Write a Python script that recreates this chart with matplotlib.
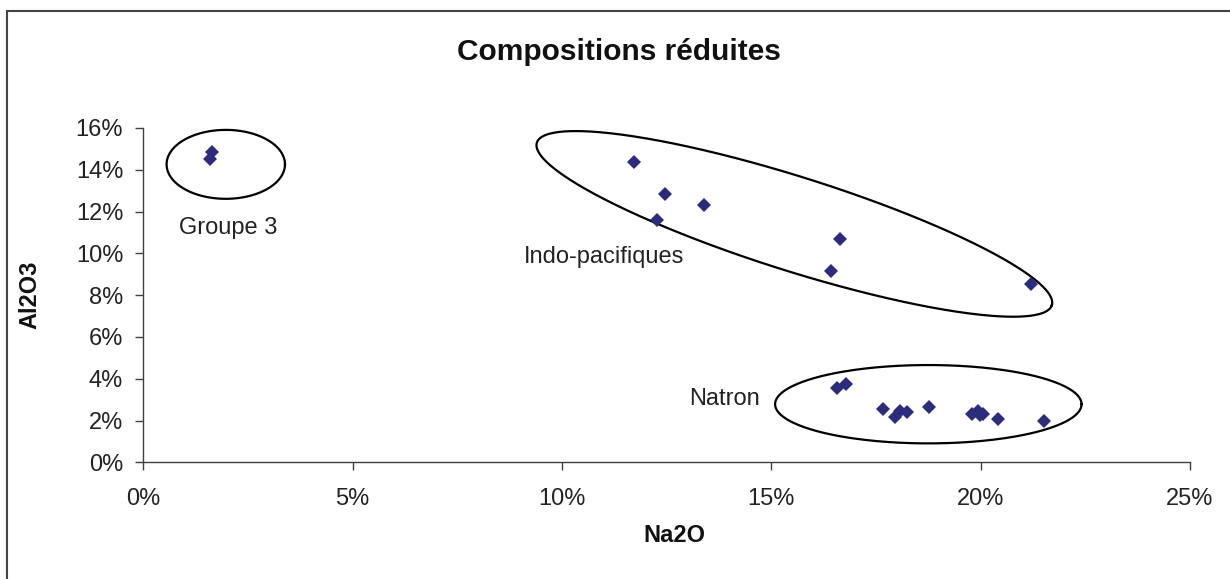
import numpy as np
import matplotlib
matplotlib.use("Agg")
import matplotlib.pyplot as plt
from matplotlib.patches import Rectangle
from matplotlib.ticker import FuncFormatter

plt.rcParams['font.family'] = ['Liberation Sans', 'DejaVu Sans']

# Data (percent)
groupe3_na2o = [1.63, 1.59]
groupe3_al2o3 = [14.84, 14.50]

indo_na2o = [11.73, 12.46, 13.40, 12.28, 16.65, 16.42, 21.20]
indo_al2o3 = [14.36, 12.86, 12.30, 11.60, 10.69, 9.14, 8.52]

natron_na2o = [16.58, 16.78, 17.67, 17.95, 18.07, 18.23, 18.77, 19.79, 19.94, 19.98, 20.05, 20.42, 21.51]
natron_al2o3 = [3.54, 3.73, 2.54, 2.19, 2.47, 2.39, 2.63, 2.31, 2.47, 2.26, 2.31, 2.07, 1.99]

x_ticks = [0, 5, 10, 15, 20, 25]
y_ticks = [0, 2, 4, 6, 8, 10, 12, 14, 16]

title = "Compositions réduites"
xlabel = "Na2O"
ylabel = "Al2O3"

W, H = 1230, 579
fig = plt.figure(figsize=(W / 100, H / 100), dpi=100)
ax = fig.add_axes([143.3 / W, 1 - 462.3 / H, (1190 - 143.3) / W, (462.3 - 128) / H])

marker_color = '#2B2C7C'
all_x = groupe3_na2o + indo_na2o + natron_na2o
all_y = groupe3_al2o3 + indo_al2o3 + natron_al2o3
ax.plot(all_x, all_y, linestyle='none', marker='D', markersize=7.4,
        color=marker_color, markeredgewidth=0, zorder=3)

ax.set_xlim(0, 25)
ax.set_ylim(0, 16)
ax.set_xticks(x_ticks)
ax.set_yticks(y_ticks)
fmt = FuncFormatter(lambda v, p: f"{v:.0f}%")
ax.xaxis.set_major_formatter(fmt)
ax.yaxis.set_major_formatter(fmt)

for s in ['top', 'right']:
    ax.spines[s].set_visible(False)
for s in ['left', 'bottom']:
    ax.spines[s].set_color('#404040')
    ax.spines[s].set_linewidth(1.0)
ax.tick_params(axis='both', direction='out', length=5.5, width=1.0, color='#404040',
               labelsize=17, labelcolor='#222222')
ax.tick_params(axis='x', pad=13)
ax.tick_params(axis='y', pad=9)


def ellipse(cx, cy, u, v, **kw):
    t = np.linspace(0, 2 * np.pi, 400)
    xs = cx + u[0] * np.cos(t) + v[0] * np.sin(t)
    ys = cy + u[1] * np.cos(t) + v[1] * np.sin(t)
    ax.plot(xs, ys, color='black', lw=1.6, clip_on=False, zorder=2, **kw)


# Groupe 3
ellipse(1.97, 14.26, (1.414, 0), (0, 1.65))
# Indo-pacifiques (tilted)
ellipse(15.55, 11.41, (6.15, -3.89), (0.3375, 2.146))
# Natron
ellipse(18.75, 2.78, (3.66, 0), (0, 1.875))

ax.text(2.02, 11.22, "Groupe 3", ha='center', va='center', fontsize=17, color='#222222')
ax.text(11.0, 9.83, "Indo-pacifiques", ha='center', va='center', fontsize=17, color='#222222')
ax.text(13.87, 3.03, "Natron", ha='center', va='center', fontsize=17, color='#222222')

fig.text(619 / W, 1 - 52 / H, title, ha='center', va='center', fontsize=21.5,
         fontweight='bold', color='#111111')
fig.text(674 / W, 1 - 535 / H, xlabel, ha='center', va='center', fontsize=17,
         fontweight='bold', color='#111111')
fig.text(30 / W, 1 - 295 / H, ylabel, ha='center', va='center', fontsize=17,
         fontweight='bold', color='#111111', rotation=90)

# outer chart border (extends beyond right/bottom of the image)
fig.patches.append(Rectangle((7 / W, -0.1), 1.2, 1.1 - 11 / H, transform=fig.transFigure,
                             fill=False, edgecolor='#444444', linewidth=1.5))

fig.savefig("out.png", dpi=100)
